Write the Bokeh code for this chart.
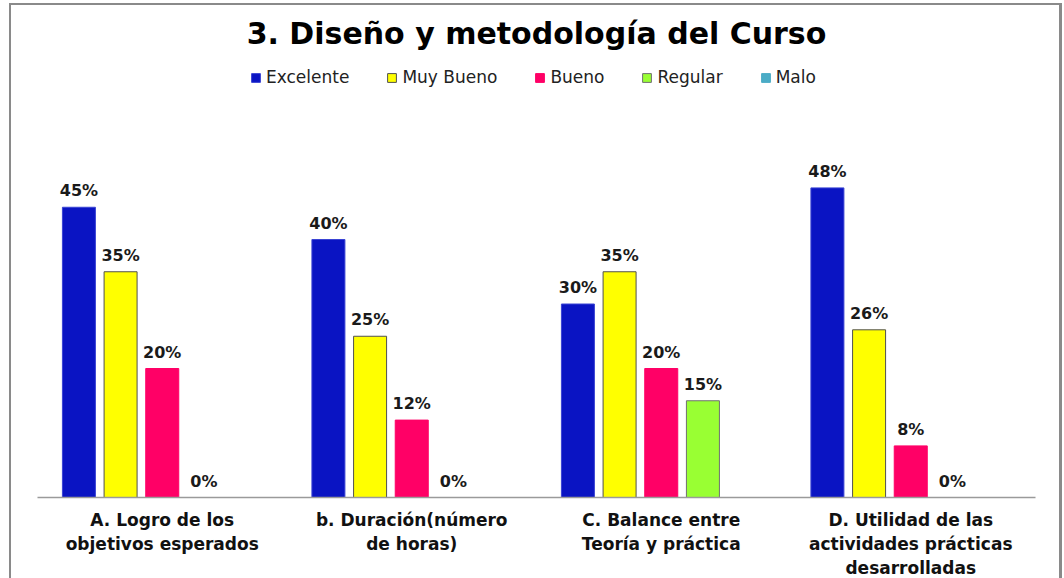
from bokeh.plotting import figure
from bokeh.models import ColumnDataSource, LabelSet, Legend, LegendItem, FactorRange, Range1d, Title
from bokeh.core.properties import value
from bokeh.transform import dodge
from bokeh.embed import file_html
from bokeh.resources import INLINE

categories = [
    "A. Logro de los\nobjetivos esperados",
    "b. Duración(número\nde horas)",
    "C. Balance entre\nTeoría y práctica",
    "D. Utilidad de las\nactividades prácticas\ndesarrolladas",
]
series_names = ["Excelente", "Muy Bueno", "Bueno", "Regular", "Malo"]
excelente = [45, 40, 30, 48]
muy_bueno = [35, 25, 35, 26]
bueno = [20, 12, 20, 8]
regular = [0, 0, 15, 0]
malo = [0, 0, 0, 0]
series_values = [excelente, muy_bueno, bueno, regular, malo]
show_labels = [True, True, True, True, False]

fill_colors = ["#0A14C3", "#FFFF00", "#FF0066", "#99FF33", "#4BACC6"]
line_colors = ["#3A44D4", "#505050", "#FF0066", "#707070", "#4BACC6"]
offsets = [-0.334, -0.167, 0.0, 0.167, 0.334]
bar_width = 0.1323

PX_PER_PCT = 6.45
FRAME_TOP = 50
FRAME_H = 442

p = figure(
    x_range=FactorRange(*categories, range_padding=0),
    y_range=Range1d(0, FRAME_H / PX_PER_PCT),
    frame_width=998, frame_height=FRAME_H,
    min_border_left=26, min_border_right=24,
    min_border_top=FRAME_TOP, min_border_bottom=78,
    output_backend="svg", toolbar_location=None,
    y_axis_location=None, background_fill_color="white",
    border_fill_color="white",
)
p.outline_line_color = None
p.xgrid.grid_line_color = None
p.ygrid.grid_line_color = None
p.styles = {
    "margin-left": "9px",
    "margin-top": "3px",
    "border-left": "2px solid #8a8a8a",
    "border-top": "2px solid #8a8a8a",
    "border-right": "3px solid #8a8a8a",
}

p.title = Title(text="3. Diseño y metodología del Curso", align="center",
                text_font="DejaVu Sans", text_font_size="30px",
                text_font_style="bold", text_color="#000000", standoff=9)

items = []
for name, vals, fc, lc, off, show in zip(series_names, series_values, fill_colors,
                                          line_colors, offsets, show_labels):
    src = ColumnDataSource(dict(cat=categories, val=vals,
                                lbl=[f"{v}%" for v in vals]))
    r = p.vbar(x=dodge("cat", off, range=p.x_range), top="val", width=bar_width,
               source=src, fill_color=fc, line_color=lc, line_width=1)
    items.append(LegendItem(label=name, renderers=[r]))
    if show:
        p.add_layout(LabelSet(x=dodge("cat", off, range=p.x_range), y="val",
                              text="lbl", source=src, text_align="center",
                              text_baseline="alphabetic", y_offset=11,
                              text_font=value("DejaVu Sans"),
                              text_font_size=value("16px"),
                              text_font_style="bold", text_color="#1a1a1a"))

legend = Legend(items=items, orientation="horizontal", location=(213, 410),
                glyph_width=11, glyph_height=11, label_standoff=5, spacing=37,
                padding=0, margin=0, border_line_color=None,
                background_fill_alpha=0, label_text_font="DejaVu Sans",
                label_text_font_size="17px", label_text_color="#222222")
p.add_layout(legend, "center")

ax = p.xaxis[0]
ax.axis_line_color = "#9a9a9a"
ax.axis_line_width = 1.5
ax.major_tick_line_color = None
ax.minor_tick_line_color = None
ax.major_tick_out = 0
ax.major_tick_in = 0
ax.major_label_standoff = 12
ax.major_label_text_font = "DejaVu Sans"
ax.major_label_text_font_size = "17px"
ax.major_label_text_font_style = "bold"
ax.major_label_text_color = "#111111"
ax.major_label_text_align = "center"

open("out.html", "w").write(file_html(p, INLINE))
